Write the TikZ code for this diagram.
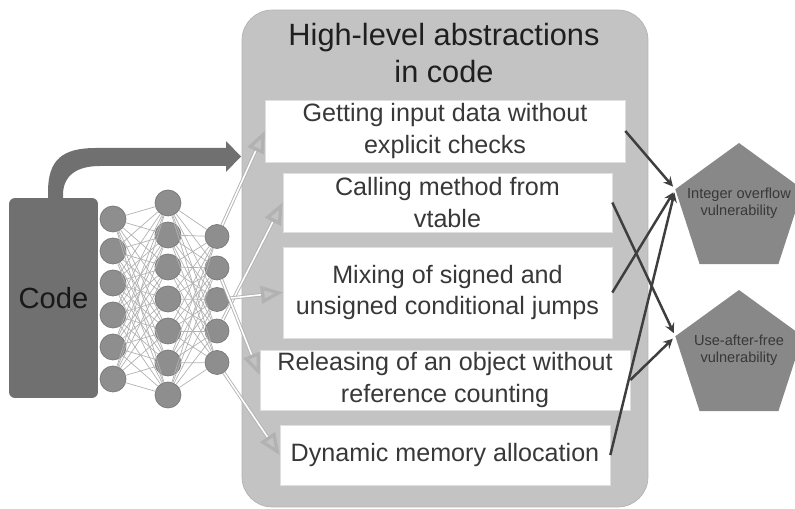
\documentclass[tikz,border=0pt]{standalone}
\usepackage{fontspec}
\setmainfont{Liberation Sans}
\usepackage{xcolor}
\usetikzlibrary{arrows,shapes.geometric,positioning}

\definecolor{panelgray}{HTML}{C3C3C3}
\definecolor{codegray}{HTML}{707070}
\definecolor{nodegray}{HTML}{8E8E8E}
\definecolor{linkgray}{HTML}{3E3E3E}
\definecolor{textgray}{HTML}{383838}

\tikzset{
  neuron/.style={circle, fill=nodegray, draw=gray!95!black, line width=0.4pt, inner sep=0pt, minimum size=0.52cm},
  smallneuron/.style={neuron, minimum size=0.48cm},
  netlink/.style={draw=gray!60, line width=0.4pt},
  absbox/.style={fill=white, draw=gray!25, inner sep=0pt, align=center, text=textgray,
    font=\fontsize{14.3}{18.1}\selectfont},
  vuln/.style={regular polygon, regular polygon sides=5, fill=nodegray!96!black, inner sep=0pt, outer sep=0pt,
    minimum size=2.68cm},
  vulntext/.style={align=center, text=textgray, font=\fontsize{8.3}{9.6}\selectfont, yshift=0.13cm},
  feed/.style={draw=gray!60, double=white, double distance=0.9pt, line width=0.5pt, -open triangle 45},
  detect/.style={draw=linkgray, line width=1.4pt, -stealth, shorten >=2pt}
}

\begin{document}
\begin{tikzpicture}[x=0.02cm, y=-0.02cm]
\useasboundingbox (0,0) rectangle (795,509);
% panel with the abstractions
\node[fill=panelgray, draw=panelgray!92!black, rounded corners=0.6cm, minimum width=8.12cm, minimum height=9.94cm] (panel) at (445,258.5) {};
\node[align=center, text=black!88, font=\fontsize{17.5}{21}\selectfont] (title) at (444,53) {High-level abstractions\\in code};
\node[absbox, minimum width=7.2cm, minimum height=1.24cm] (box1) at (445,131) {Getting input data without\\explicit checks};
\node[absbox, minimum width=6.58cm, minimum height=1.18cm] (box2) at (447.5,202.5) {Calling method from\\vtable};
\node[absbox, minimum width=6.58cm, minimum height=1.82cm] (box3) at (447.5,292.5) {Mixing of signed and\\unsigned conditional jumps};
\node[absbox, minimum width=7.4cm, minimum height=1.2cm] (box4) at (445,380) {Releasing of an object without\\reference counting};
\node[absbox, minimum width=6.6cm, minimum height=1.2cm] (box5) at (445,455) {Dynamic memory allocation};

% code and the big arrow
\node[fill=codegray, rounded corners=0.12cm, minimum width=1.78cm, minimum height=4.0cm, text=black!90, font=\fontsize{16.6}{20}\selectfont] (code) at (53.5,298) {Code};
\fill[codegray] (48,200) -- (48,192) .. controls (48,160) and (62,148) .. (96,148) -- (226,148) -- (226,141)
  -- (241,156.5) -- (226,172) -- (226,166) -- (100,166) .. controls (76,166) and (63,176) .. (63,195) -- (63,200) -- cycle;

% network
\foreach \i in {1,...,6}
  \node[neuron] (a\i) at (113,{187+32*\i}) {};
\foreach \j in {1,...,7}
  \node[neuron] (b\j) at (168,{171+32*\j}) {};
\foreach \k in {1,...,5}
  \node[smallneuron] (c\k) at (217,{205+31.5*\k}) {};
\foreach \i in {1,...,6}
  \foreach \j in {1,...,7}
    \draw[netlink] (a\i) -- (b\j);
\foreach \j in {1,...,7}
  \foreach \k in {1,...,5}
    \draw[netlink] (b\j) -- (c\k);

\draw[feed] (c1) -- (box1.west);
\draw[feed] (c4) -- (box2.west);
\draw[feed] (c3) -- (box3.west);
\draw[feed] (c2) -- ([yshift=0.1cm]box4.west);
\draw[feed] (c5) -- (box5.west);

% vulnerabilities
\node[vuln, label={[vulntext]center:Integer overflow\\vulnerability}] (intof) at (739,210) {};
\node[vuln, label={[vulntext]center:Use-after-free\\vulnerability}] (uaf) at (739,357) {};

\draw[detect] (box1.east) -- (intof.corner 2);
\draw[detect] (box3.east) -- (intof.corner 2);
\draw[detect] (box5.east) -- (intof.corner 2);
\draw[detect] (box2.east) -- (uaf.corner 2);
\draw[detect] (box4.east) -- (uaf.corner 2);
\end{tikzpicture}
\end{document}
